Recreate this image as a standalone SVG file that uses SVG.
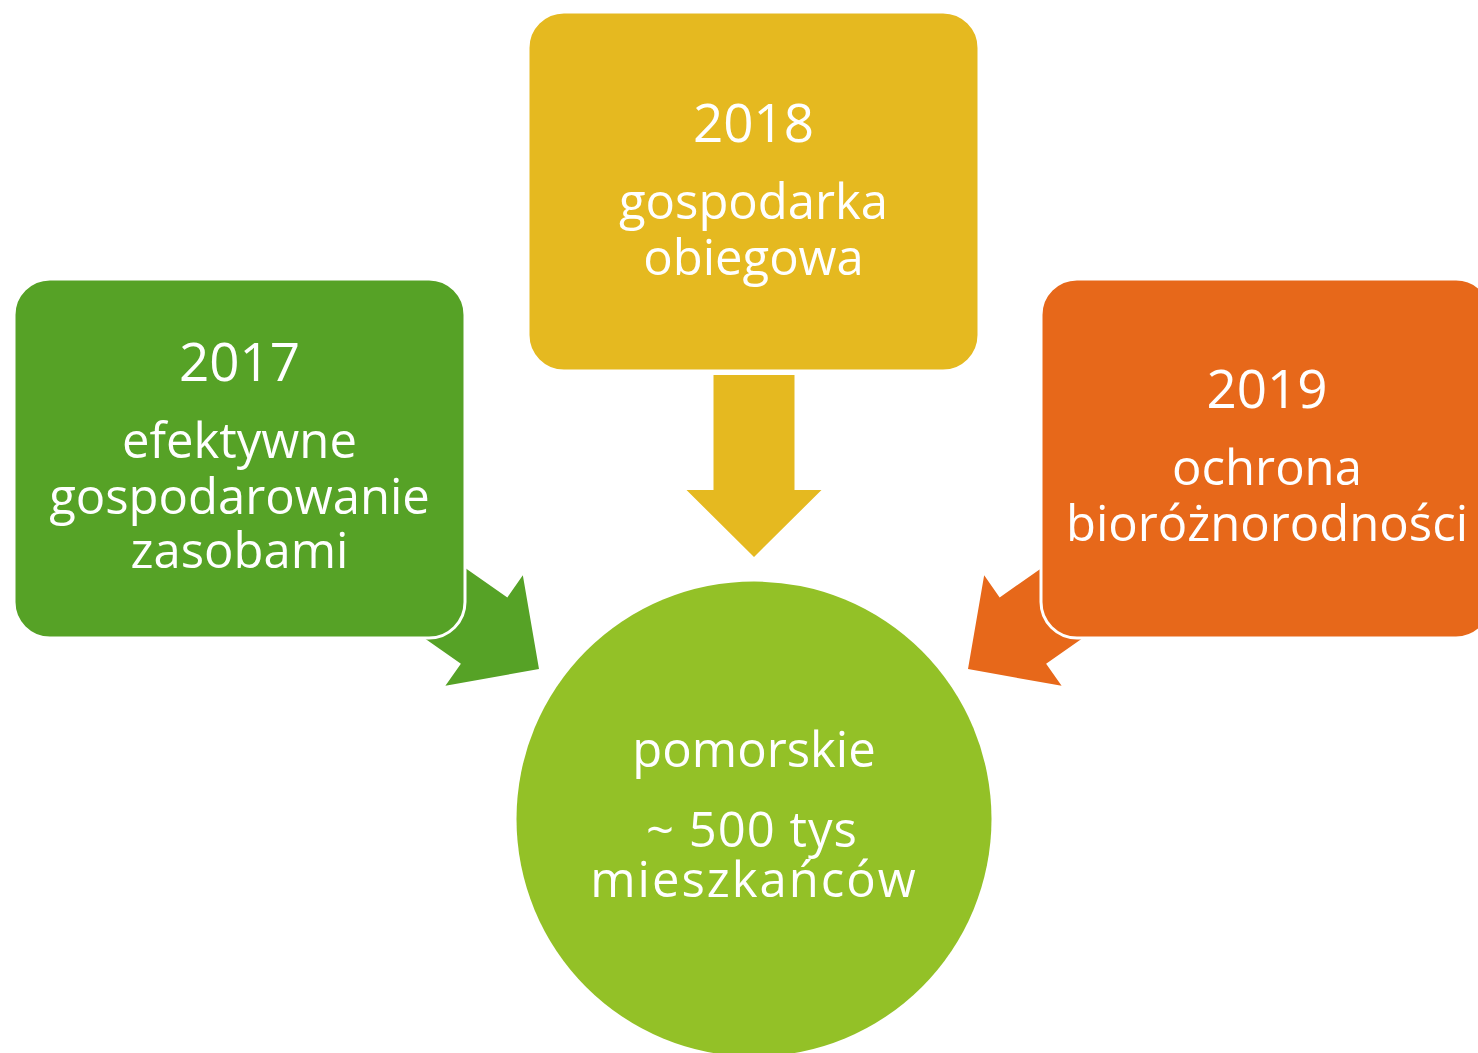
<svg xmlns="http://www.w3.org/2000/svg" width="1478" height="1053" viewBox="0 0 1478 1053">
<style>
.box{stroke:#ffffff;stroke-width:3}
.t{font-family:"Open Sans","Noto Sans","DejaVu Sans",sans-serif;fill:#ffffff;text-anchor:middle;font-size:49px}
.yr{font-size:53px}
</style>
<defs>
<path id="arr" d="M -182 -40.5 L -67 -40.5 L -67 -67.5 L 0 0 L -67 67.5 L -67 40.5 L -182 40.5 Z"/>
</defs>
<rect width="1478" height="1053" fill="#ffffff"/>
<g id="connectors">
<use href="#arr" transform="translate(754,557) rotate(90)" fill="#E5B920"/>
<use href="#arr" transform="translate(539,669) rotate(35)" fill="#56A226"/>
<use href="#arr" transform="translate(968,669) rotate(145)" fill="#E7681A"/>
</g>
<g id="node-2017">
<rect class="box" x="14" y="279" width="451" height="359" rx="36" fill="#56A226"/>
<text class="t yr" x="239.5" y="381">2017</text>
<text class="t" x="239.5" y="458">efektywne</text>
<text class="t" x="239.5" y="514">gospodarowanie</text>
<text class="t" x="239.5" y="568">zasobami</text>
</g>
<g id="node-2018">
<rect class="box" x="528" y="12" width="451" height="359" rx="36" fill="#E5B920"/>
<text class="t yr" x="753.5" y="142">2018</text>
<text class="t" x="753.5" y="219">gospodarka</text>
<text class="t" x="753.5" y="275">obiegowa</text>
</g>
<g id="node-2019">
<rect class="box" x="1041" y="279" width="451" height="359" rx="36" fill="#E7681A"/>
<text class="t yr" x="1267" y="408">2019</text>
<text class="t" x="1267" y="485">ochrona</text>
<text class="t" x="1267" y="541">bioróżnorodności</text>
</g>
<g id="node-pomorskie">
<circle cx="754" cy="819" r="237.5" fill="#93C127"/>
<text class="t" x="754" y="767">pomorskie</text>
<text class="t" x="752" y="847" letter-spacing="1">~ 500 tys</text>
<text class="t" x="754" y="897" letter-spacing="2">mieszkańców</text>
</g>
</svg>
